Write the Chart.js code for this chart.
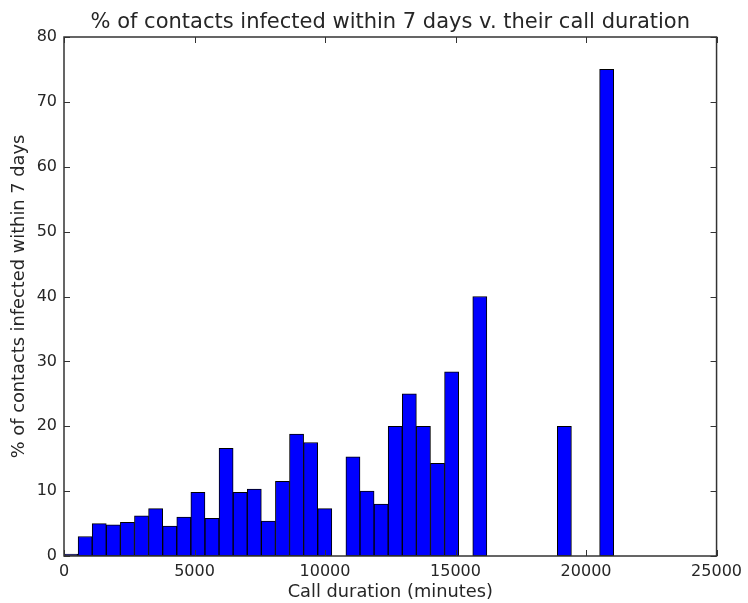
<!DOCTYPE html>
<html>
<head>
<meta charset="utf-8">
<script src="https://cdn.jsdelivr.net/npm/chart.js@4"></script>
<style>
  html, body { margin: 0; padding: 0; background: #fff; }
  #histChart { display: block; }
</style>
</head>
<body>
<canvas id="histChart" width="748" height="603"></canvas>
<script>
// histogram bins (minutes), each 540 wide
const binWidth = 540;
const binStarts = [0, 540, 1080, 1620, 2160, 2700, 3240, 3780, 4320, 4860,
    5400, 5940, 6480, 7020, 7560, 8100, 8640, 9180, 9720, 10260,
    10800, 11340, 11880, 12420, 12960, 13500, 14040, 14580, 15120, 15660,
    16200, 16740, 17280, 17820, 18360, 18900, 19440, 19980, 20520];
// % of contacts infected within 7 days (null = empty bin)
const pctInfected = [0.3, 3.0, 5.0, 4.8, 5.2, 6.2, 7.3, 4.6, 6.0, 9.8,
    5.8, 16.6, 9.8, 10.3, 5.4, 11.5, 18.8, 17.5, 7.3, null,
    15.3, 10.0, 8.0, 20.0, 25.0, 20.0, 14.3, 28.4, null, 40.0,
    null, null, null, null, null, 20.0, null, null, 75.0];

const xTicks = [0, 5000, 10000, 15000, 20000, 25000];
const yTicks = [0, 10, 20, 30, 40, 50, 60, 70, 80];

const textColor = '#262626';
const fontFamily = '"DejaVu Sans", sans-serif';

let points = binStarts.map((s, i) => ({ x: s + binWidth / 2, y: pctInfected[i] }));

// matplotlib-ish frame with inward ticks on all four sides
const frameTicks = {
    id: 'frameTicks',
    afterDatasetsDraw(chart) {
        const { ctx, chartArea: a, scales } = chart;
        ctx.save();
        ctx.strokeStyle = '#333';
        ctx.lineWidth = 1;
        for (let v of xTicks) {
            let px = Math.round(scales.x.getPixelForValue(v)) + 0.5;
            ctx.beginPath();
            ctx.moveTo(px, a.bottom); ctx.lineTo(px, a.bottom - 6);
            ctx.moveTo(px, a.top); ctx.lineTo(px, a.top + 6);
            ctx.stroke();
        }
        for (let v of yTicks) {
            let py = Math.round(scales.y.getPixelForValue(v)) + 0.5;
            ctx.beginPath();
            ctx.moveTo(a.left, py); ctx.lineTo(a.left + 6, py);
            ctx.moveTo(a.right, py); ctx.lineTo(a.right - 6, py);
            ctx.stroke();
        }
        ctx.lineWidth = 1.5;
        ctx.strokeRect(a.left, a.top, a.right - a.left, a.bottom - a.top);
        ctx.restore();
    }
};

const ctx = document.getElementById('histChart').getContext('2d');
let histChart = new Chart(ctx, {
    type: 'bar',
    data: {
        datasets: [{
            label: '% infected',
            data: points,
            backgroundColor: '#0000ff',
            borderColor: '#000000',
            borderWidth: 1,
            borderSkipped: false,
            barPercentage: 1.0,
            categoryPercentage: 1.0
        }]
    },
    options: {
        responsive: false,
        animation: false,
        layout: { padding: { left: 0, right: 29, top: 0, bottom: 0 } },
        plugins: {
            legend: { display: false },
            tooltip: { enabled: false },
            title: {
                display: true,
                fullSize: false,
                text: '% of contacts infected within 7 days v. their call duration',
                color: textColor,
                font: { family: fontFamily, size: 21, weight: 'normal' },
                padding: { top: 9.5, bottom: 2.3 }
            }
        },
        scales: {
            x: {
                type: 'linear',
                min: 0,
                max: 25000,
                offset: false,
                grid: { display: false, drawTicks: false },
                border: { display: false },
                afterBuildTicks: scale => { scale.ticks = xTicks.map(v => ({ value: v })); },
                afterFit: scale => { scale.height = 47; },
                ticks: {
                    color: textColor,
                    padding: 6,
                    maxRotation: 0,
                    font: { family: fontFamily, size: 16 },
                    callback: v => String(v)
                },
                title: {
                    display: true,
                    text: 'Call duration (minutes)',
                    color: textColor,
                    font: { family: fontFamily, size: 17.8 },
                    padding: { top: 0, bottom: 0 }
                }
            },
            y: {
                min: 0,
                max: 80,
                grid: { display: false, drawTicks: false },
                border: { display: false },
                afterBuildTicks: scale => { scale.ticks = yTicks.map(v => ({ value: v })); },
                afterFit: scale => { scale.width = 64; },
                ticks: {
                    color: textColor,
                    padding: 7,
                    font: { family: fontFamily, size: 16 }
                },
                title: {
                    display: true,
                    text: '% of contacts infected within 7 days',
                    color: textColor,
                    font: { family: fontFamily, size: 17.8 },
                    padding: { top: 9, bottom: 0 }
                }
            }
        }
    },
    plugins: [frameTicks]
});
</script>
</body>
</html>
